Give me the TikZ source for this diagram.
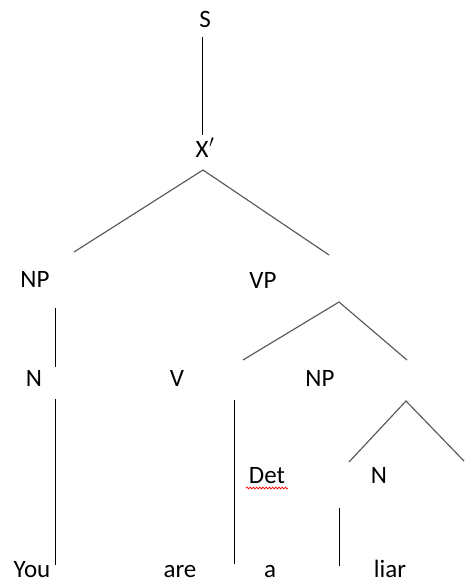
\documentclass[tikz,border=0pt]{standalone}
\usepackage{fontspec}
\setmainfont{Carlito}
\usetikzlibrary{decorations.pathmorphing}
\begin{document}
\begin{tikzpicture}[x=1pt,y=-1pt,
  lbl/.style={anchor=base,inner sep=0pt,text depth=0pt,font=\fontsize{25}{29}\selectfont},
  vline/.style={draw=black,line width=1pt},
  dline/.style={draw=black!65,line width=1.15pt},
  squig/.style={draw=red,line width=0.7pt,decorate,decoration={snake,amplitude=0.9pt,segment length=3.2pt}}]
\useasboundingbox[fill=white] (0,0) rectangle (464,583);
% labels
\node[lbl] (S) at (205,28) {S};
\node[lbl] (Xb) at (205,157) {X\kern0.5pt$'$};
\node[lbl] (NP1) at (35,287) {NP};
\node[lbl] (VP) at (263,288) {VP};
\node[lbl] (N1) at (34,386) {N};
\node[lbl] (V) at (177,386) {V};
\node[lbl] (NP2) at (320,386) {NP};
\node[lbl] (Det) at (267,483) {Det};
\node[lbl] (N2) at (379,483) {N};
\node[lbl] (You) at (32,577) {You};
\node[lbl] (are) at (180,577) {are};
\node[lbl] (a) at (270,577) {a};
\node[lbl] (liar) at (390,577) {liar};
% line end points
\coordinate (s1) at (202,37);   \coordinate (s2) at (202,135);
\coordinate (xp) at (203,170);  \coordinate (xl) at (74,252);  \coordinate (xr) at (329,255);
\coordinate (n1a) at (55,308);  \coordinate (n1b) at (55,367);
\coordinate (y1) at (55,399);   \coordinate (y2) at (55,565);
\coordinate (vp) at (339,302);  \coordinate (vl) at (243,360); \coordinate (vr) at (407,360);
\coordinate (v1) at (234,400);  \coordinate (v2) at (234,564);
\coordinate (np) at (406,401);  \coordinate (nl) at (349,462); \coordinate (nr) at (464,461);
\coordinate (l1) at (339,508);  \coordinate (l2) at (339,566);
\coordinate (q1) at (246,488);  \coordinate (q2) at (288,488);
% connectors
\draw[vline] (s1) -- (s2);
\draw[dline] (xl) -- (xp) -- (xr);
\draw[vline] (n1a) -- (n1b);
\draw[vline] (y1) -- (y2);
\draw[dline] (vl) -- (vp) -- (vr);
\draw[vline] (v1) -- (v2);
\draw[dline] (nl) -- (np) -- (nr);
\draw[vline] (l1) -- (l2);
\draw[squig] (q1) -- (q2);
\end{tikzpicture}
\end{document}
